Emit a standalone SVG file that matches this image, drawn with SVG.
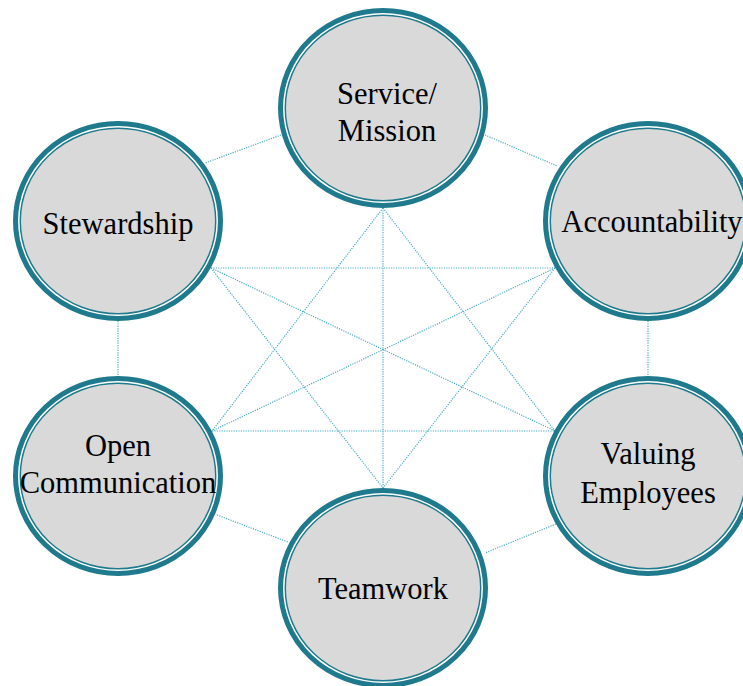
<svg xmlns="http://www.w3.org/2000/svg" width="743" height="686" viewBox="0 0 743 686">
  <style>
    .link { stroke: #4bacc6; stroke-width: 1.2; stroke-dasharray: 1.2 1.2; fill: none; }
    .disc { fill: #d9d9d9; stroke: #1e7a8c; stroke-width: 8; }
    .inner { fill: none; stroke: #ffffff; stroke-width: 1.5; }
    .label { font-family: "Liberation Serif", "Times New Roman", serif; font-size: 30.5px; fill: #000000; text-anchor: middle; }
  </style>
  <rect width="743" height="686" fill="#ffffff"/>

  <!-- connectors: every value linked to every other -->
  <g id="connectors">
    <!-- ring between neighbours -->
    <line class="link" x1="281" y1="135" x2="205" y2="163"/>
    <line class="link" x1="485" y1="135" x2="557" y2="166"/>
    <line class="link" x1="118" y1="321" x2="118" y2="376"/>
    <line class="link" x1="648" y1="321" x2="648" y2="376"/>
    <line class="link" x1="217" y1="515" x2="288" y2="542"/>
    <line class="link" x1="556" y1="524" x2="485" y2="553"/>
    <!-- cross links -->
    <line class="link" x1="383" y1="208" x2="383" y2="488"/>
    <line class="link" x1="383" y1="208" x2="212" y2="431"/>
    <line class="link" x1="383" y1="208" x2="555" y2="431"/>
    <line class="link" x1="211" y1="268" x2="555" y2="268"/>
    <line class="link" x1="211" y1="268" x2="555" y2="431"/>
    <line class="link" x1="211" y1="268" x2="383" y2="488"/>
    <line class="link" x1="555" y1="268" x2="212" y2="431"/>
    <line class="link" x1="555" y1="268" x2="383" y2="488"/>
    <line class="link" x1="212" y1="431" x2="555" y2="431"/>
  </g>

  <g id="service-mission">
    <ellipse class="disc" cx="383" cy="108" rx="101" ry="96"/>
    <ellipse class="inner" cx="383" cy="108" rx="99.2" ry="94.2"/>
    <text class="label" x="387" y="104">Service/</text>
    <text class="label" x="387" y="141">Mission</text>
  </g>

  <g id="stewardship">
    <ellipse class="disc" cx="118" cy="221" rx="101" ry="96"/>
    <ellipse class="inner" cx="118" cy="221" rx="99.2" ry="94.2"/>
    <text class="label" x="118" y="234">Stewardship</text>
  </g>

  <g id="accountability">
    <ellipse class="disc" cx="648" cy="221" rx="101" ry="96"/>
    <ellipse class="inner" cx="648" cy="221" rx="99.2" ry="94.2"/>
    <text class="label" x="652" y="232">Accountability</text>
  </g>

  <g id="open-communication">
    <ellipse class="disc" cx="118" cy="476" rx="101" ry="96"/>
    <ellipse class="inner" cx="118" cy="476" rx="99.2" ry="94.2"/>
    <text class="label" x="118" y="456">Open</text>
    <text class="label" x="118" y="493">Communication</text>
  </g>

  <g id="valuing-employees">
    <ellipse class="disc" cx="648" cy="476" rx="101" ry="96"/>
    <ellipse class="inner" cx="648" cy="476" rx="99.2" ry="94.2"/>
    <text class="label" x="648" y="464">Valuing</text>
    <text class="label" x="648" y="503">Employees</text>
  </g>

  <g id="teamwork">
    <ellipse class="disc" cx="383" cy="588" rx="101" ry="96"/>
    <ellipse class="inner" cx="383" cy="588" rx="99.2" ry="94.2"/>
    <text class="label" x="383" y="599">Teamwork</text>
  </g>
</svg>
